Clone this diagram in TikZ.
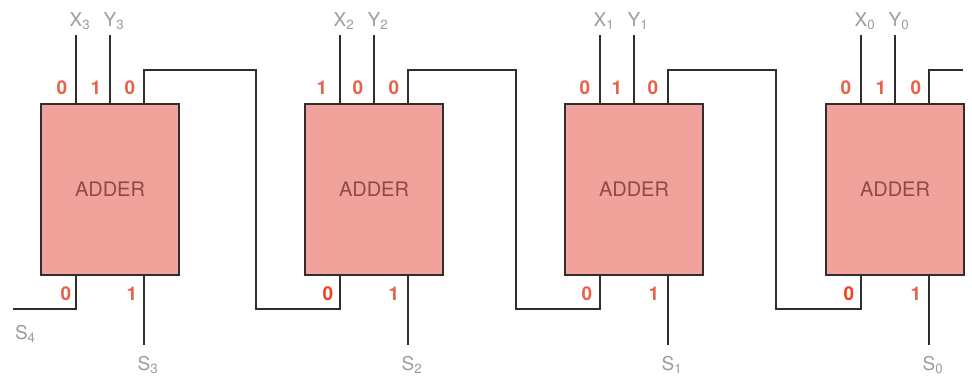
\documentclass[tikz,border=0pt]{standalone}
\usepackage{fontspec}
\setmainfont{TeX Gyre Heros}
\usepackage{xcolor}
\usepackage{tikz}
\usetikzlibrary{positioning}

\definecolor{boxpink}{HTML}{F0A29B}
\definecolor{boxtext}{HTML}{8E4A4A}
\definecolor{wiregray}{HTML}{2E2E2E}
\definecolor{labgray}{HTML}{9C9C9C}
\definecolor{bitorange}{HTML}{E8614A}
\definecolor{bitred}{HTML}{F2401C}

\begin{document}
\begin{tikzpicture}[
    x=0.5pt, y=-0.5pt,
    adder/.style={rectangle, draw=wiregray, line width=0.9pt, fill=boxpink, text=boxtext, inner sep=0pt, minimum width=69pt, minimum height=85.5pt, font=\fontsize{10}{12}\selectfont},
    sig/.style={text=labgray, inner sep=1pt, outer sep=1.5pt, font=\fontsize{9.5}{11}\selectfont},
    sigout/.style={sig, anchor=north, outer sep=4.5pt},
    bit/.style={text=bitorange, inner sep=0pt, font=\fontsize{9.5}{11}\selectfont\bfseries},
    hot/.style={bit, text=bitred},
    wire/.style={draw=wiregray, line width=1pt}
]
    \useasboundingbox (0,0) rectangle (972,378);

    % --- Adders ---
    \node [adder] (add3) at (110,189.5) {ADDER};
    \node [adder] (add2) at (374,189.5) {ADDER};
    \node [adder] (add1) at (634,189.5) {ADDER};
    \node [adder] (add0) at (895,189.5) {ADDER};

    % --- Inputs ---
    \node [sig, anchor=south] (x3) at (76,35) {X\rlap{\textsubscript{3}}};
    \node [sig, anchor=south] (y3) at (110,35) {Y\rlap{\textsubscript{3}}};
    \node [sig, anchor=south] (x2) at (340,35) {X\rlap{\textsubscript{2}}};
    \node [sig, anchor=south] (y2) at (374,35) {Y\rlap{\textsubscript{2}}};
    \node [sig, anchor=south] (x1) at (600,35) {X\rlap{\textsubscript{1}}};
    \node [sig, anchor=south] (y1) at (634,35) {Y\rlap{\textsubscript{1}}};
    \node [sig, anchor=south] (x0) at (861,35) {X\rlap{\textsubscript{0}}};
    \node [sig, anchor=south] (y0) at (895,35) {Y\rlap{\textsubscript{0}}};

    % --- Outputs ---
    \node [sigout] (s3) at (144,345) {S\rlap{\textsubscript{3}}};
    \node [sigout] (s2) at (408,345) {S\rlap{\textsubscript{2}}};
    \node [sigout] (s1) at (668,345) {S\rlap{\textsubscript{1}}};
    \node [sigout] (s0) at (929,345) {S\rlap{\textsubscript{0}}};
    \coordinate (c4) at (13,309);
    \node [sig, anchor=north west, inner sep=0pt] (s4) at (12,322) {S\textsubscript{4}};

    % turning points of the carry lines
    \coordinate (t2) at (256,70);  \coordinate (b2) at (256,309);
    \coordinate (t1) at (516,70);  \coordinate (b1) at (516,309);
    \coordinate (t0) at (776,70);  \coordinate (b0) at (776,309);
    \coordinate (cin) at (963,70);

    % Paths
    \path [wire] (x3.south) -- (x3.south |- add3.north);
    \path [wire] (y3.south) -- (y3.south |- add3.north);
    \path [wire] (x2.south) -- (x2.south |- add2.north);
    \path [wire] (y2.south) -- (y2.south |- add2.north);
    \path [wire] (x1.south) -- (x1.south |- add1.north);
    \path [wire] (y1.south) -- (y1.south |- add1.north);
    \path [wire] (x0.south) -- (x0.south |- add0.north);
    \path [wire] (y0.south) -- (y0.south |- add0.north);

    \path [wire] (s3.north |- add3.south) -- (s3.north);
    \path [wire] (s2.north |- add2.south) -- (s2.north);
    \path [wire] (s1.north |- add1.south) -- (s1.north);
    \path [wire] (s0.north |- add0.south) -- (s0.north);
    \path [wire] ([xshift=-17pt]add3.south) |- (c4);

    \path [wire] ([xshift=17pt]add3.north) |- (t2) -- (b2) -| ([xshift=-17pt]add2.south);
    \path [wire] ([xshift=17pt]add2.north) |- (t1) -- (b1) -| ([xshift=-17pt]add1.south);
    \path [wire] ([xshift=17pt]add1.north) |- (t0) -- (b0) -| ([xshift=-17pt]add0.south);
    \path [wire] ([xshift=17pt]add0.north) |- (cin);

    % Bits
    \node [bit] (b3x) at ([xshift=-24pt,yshift=7.5pt]add3.north) {0};
    \node [bit] (b3y) at ([xshift=-7pt,yshift=7.5pt]add3.north) {1};
    \node [bit] (b3c) at ([xshift=10pt,yshift=7.5pt]add3.north) {0};
    \node [bit] (b3o) at ([xshift=-22pt,yshift=-9pt]add3.south) {0};
    \node [bit] (b3s) at ([xshift=11pt,yshift=-9pt]add3.south) {1};

    \node [bit] (b2x) at ([xshift=-26pt,yshift=7.5pt]add2.north) {1};
    \node [bit] (b2y) at ([xshift=-8pt,yshift=7.5pt]add2.north) {0};
    \node [bit] (b2c) at ([xshift=10pt,yshift=7.5pt]add2.north) {0};
    \node [hot] (b2o) at ([xshift=-23pt,yshift=-9pt]add2.south) {0};
    \node [bit] (b2s) at ([xshift=10pt,yshift=-9pt]add2.south) {1};

    \node [bit] (b1x) at ([xshift=-24.5pt,yshift=7.5pt]add1.north) {0};
    \node [bit] (b1y) at ([xshift=-8.5pt,yshift=7.5pt]add1.north) {1};
    \node [bit] (b1c) at ([xshift=9.5pt,yshift=7.5pt]add1.north) {0};
    \node [bit] (b1o) at ([xshift=-23.5pt,yshift=-9pt]add1.south) {0};
    \node [bit] (b1s) at ([xshift=10pt,yshift=-9pt]add1.south) {1};

    \node [bit] (b0x) at ([xshift=-24.5pt,yshift=7.5pt]add0.north) {0};
    \node [bit] (b0y) at ([xshift=-7pt,yshift=7.5pt]add0.north) {1};
    \node [bit] (b0c) at ([xshift=10.5pt,yshift=7.5pt]add0.north) {0};
    \node [hot] (b0o) at ([xshift=-23pt,yshift=-9pt]add0.south) {0};
    \node [bit] (b0s) at ([xshift=10.5pt,yshift=-9pt]add0.south) {1};

\end{tikzpicture}
\end{document}
